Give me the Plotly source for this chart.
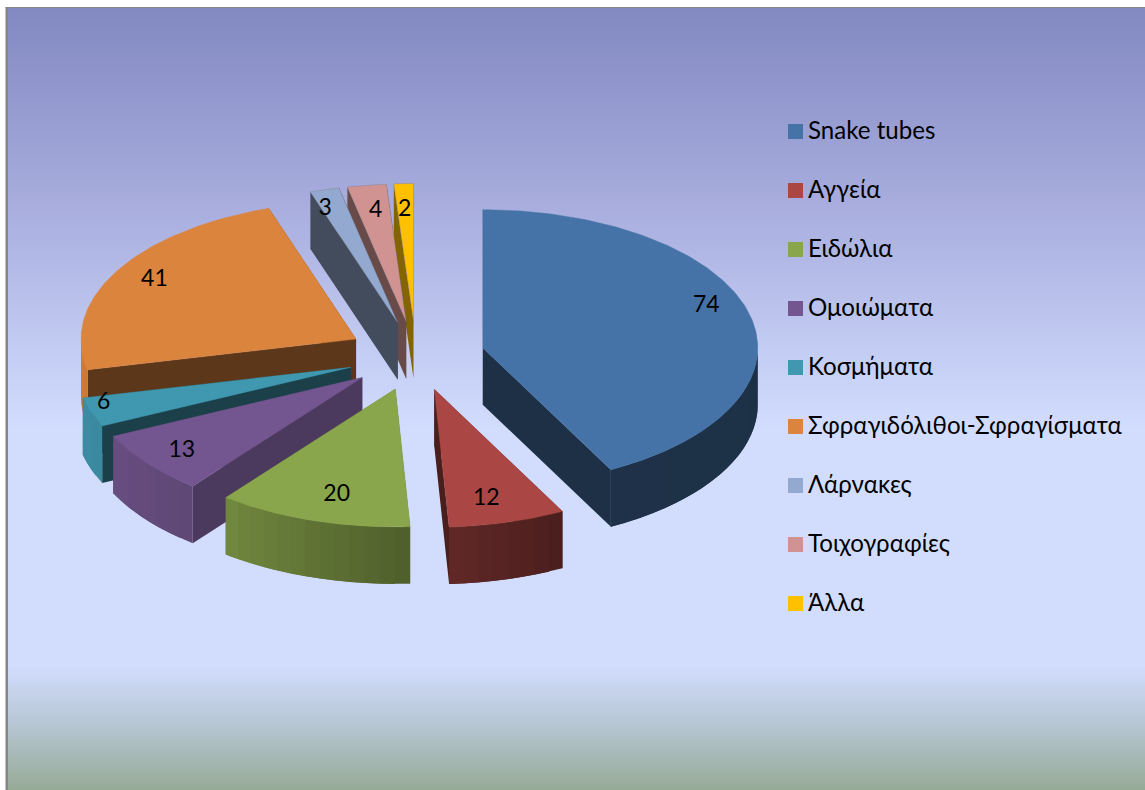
import numpy as np
import plotly.graph_objects as go

CATEGORIES = [
    "Snake tubes",
    "Αγγεία",
    "Ειδώλια",
    "Ομοιώματα",
    "Κοσμήματα",
    "Σφραγιδόλιθοι-Σφραγίσματα",
    "Λάρνακες",
    "Τοιχογραφίες",
    "Άλλα",
]
VALUES = [74, 12, 20, 13, 6, 41, 3, 4, 2]
COLORS = ["#4573a7", "#aa4744", "#8aa64c", "#73568f", "#4098b0", "#db843d", "#93a9cf", "#d09392", "#fec000"]
# darkening of the straight cut faces of each slice
CUT_SHADE = [0.42, 0.43, 0.6, 0.66, 0.42, 0.42, 0.45, 0.5, 0.52]
# how far out along the slice each value label sits, across and down
LABEL_RADIUS_X = [0.834, 0.698, 0.722, 0.844, 0.955, 0.845, 1.005, 0.8, 1.0]
LABEL_RADIUS_Y = [1.245, 0.825, 0.806, 0.854, 0.81, 0.875, 0.855, 0.811, 0.81]

# background stops: pixel row, colour
BG_ROWS = [8, 200, 430, 665, 720, 790]
BG_COLORS = ["#8289c1", "#a7acdd", "#d2ddfe", "#d2ddfe", "#b9c8d8", "#96aa96"]

# lighting of the rim by angle (degrees clockwise from 12 o'clock)
RIM_ANGLES = [90, 152, 177, 218, 244, 270]
RIM_SHADE = [0.42, 0.43, 0.57, 0.82, 0.9, 0.95]

WIDTH, HEIGHT = 1145, 790
CX, CY = 416, 356
RX, RY = 275, 138
DEPTH = 57
EXPLODE = 0.25
FONT = "Lato, 'Noto Sans', sans-serif"
EDGE = "rgba(120,120,130,0.45)"
OUTLINED = (6, 7, 8)


def shade(color, factor):
    r, g, b = [int(color[i : i + 2], 16) for i in (1, 3, 5)]
    return f"rgb({r * factor:.0f},{g * factor:.0f},{b * factor:.0f})"


def add_polygon(fig, xs, ys, color, line_color=None, line_width=0):
    fig.add_trace(
        go.Scatter(
            x=xs,
            y=ys,
            mode="lines",
            fill="toself",
            fillcolor=color,
            line=dict(color=line_color or color, width=line_width),
            hoverinfo="skip",
            showlegend=False,
        )
    )


def add_slice(fig, idx, start, end):
    mid = np.radians((start + end) / 2)
    ax = CX + EXPLODE * RX * np.sin(mid)
    ay = CY - EXPLODE * RY * np.cos(mid)

    def rim_point(deg):
        rad = np.radians(deg)
        return ax + RX * np.sin(rad), ay - RY * np.cos(rad)

    color = COLORS[idx]
    cut = shade(color, CUT_SHADE[idx])

    # straight faces
    for deg in (end, start):
        px_, py_ = rim_point(deg)
        add_polygon(fig, [ax, px_, px_, ax], [ay, py_, py_ + DEPTH, ay + DEPTH], cut)

    # rim, in thin overlapping strips so the lighting can change along it
    lo, hi = max(start, 90), min(end, 270)
    if hi > lo:
        edges = np.linspace(lo, hi, max(2, int((hi - lo) / 3) + 1))
        step = edges[1] - edges[0]
        for a in edges[:-1]:
            f = np.interp(a + step / 2, RIM_ANGLES, RIM_SHADE)
            arc = np.linspace(a, min(a + 2 * step, hi), 6)
            rx_, ry_ = rim_point(arc)
            add_polygon(
                fig,
                [*rx_, *rx_[::-1]],
                [*ry_, *(ry_[::-1] + DEPTH)],
                shade(color, f),
            )

    # top face
    arc = np.linspace(start, end, max(2, int(end - start) + 1))
    top_x, top_y = rim_point(arc)
    if idx in OUTLINED:
        add_polygon(fig, [ax, *top_x, ax], [ay, *top_y, ay], color, EDGE, 0.8)
    else:
        add_polygon(fig, [ax, *top_x, ax], [ay, *top_y, ay], color, color, 0.4)

    # value label
    return ax + LABEL_RADIUS_X[idx] * RX * np.sin(mid), ay - LABEL_RADIUS_Y[idx] * RY * np.cos(mid)


fig = go.Figure()

# background gradient
rows = np.arange(BG_ROWS[0], BG_ROWS[-1] + 1, 2)
stops = [(r - BG_ROWS[0]) / (BG_ROWS[-1] - BG_ROWS[0]) for r in BG_ROWS]
fig.add_trace(
    go.Heatmap(
        x=[8, WIDTH],
        y=rows,
        z=[[r] for r in rows],
        colorscale=list(zip(stops, BG_COLORS)),
        showscale=False,
        hoverinfo="skip",
    )
)

bounds = np.concatenate([[0], np.cumsum(VALUES)]) / sum(VALUES) * 360
label_pos = {}
for idx in [8, 7, 6, 5, 0, 4, 3, 2, 1]:
    label_pos[idx] = add_slice(fig, idx, bounds[idx], bounds[idx + 1])

fig.add_trace(
    go.Scatter(
        x=[label_pos[i][0] + 1 for i in range(len(VALUES))],
        y=[label_pos[i][1] for i in range(len(VALUES))],
        mode="text",
        text=[str(v) for v in VALUES],
        textposition="middle center",
        textfont=dict(family=FONT, size=23, color="#000000"),
        hoverinfo="skip",
        showlegend=False,
    )
)

# legend column
legend_y = [131.5 + 59 * i for i in range(len(CATEGORIES))]
fig.add_trace(
    go.Scatter(
        x=[795.5] * len(CATEGORIES),
        y=legend_y,
        mode="markers",
        marker=dict(symbol="square", size=15, color=COLORS, line=dict(width=0)),
        hoverinfo="skip",
        showlegend=False,
    )
)
fig.add_trace(
    go.Scatter(
        x=[808] * len(CATEGORIES),
        y=[y + 1 for y in legend_y],
        mode="text",
        text=CATEGORIES,
        textposition="middle right",
        textfont=dict(family=FONT, size=24.1, color="#000000"),
        hoverinfo="skip",
        showlegend=False,
    )
)

fig.update_layout(
    width=WIDTH,
    height=HEIGHT,
    margin=dict(l=0, r=0, t=0, b=0),
    paper_bgcolor="#ffffff",
    plot_bgcolor="#ffffff",
    xaxis=dict(range=[0, WIDTH], visible=False, fixedrange=True),
    yaxis=dict(range=[HEIGHT, 0], visible=False, fixedrange=True),
    shapes=[
        dict(type="rect", x0=5.5, x1=8, y0=7, y1=HEIGHT, fillcolor="#868686", line=dict(width=0)),
        dict(type="rect", x0=5.5, x1=WIDTH, y0=7, y1=8, fillcolor="#868686", line=dict(width=0)),
    ],
)

fig.write_html(
    "out.html",
    config=dict(displayModeBar=False),
    post_script="document.body.style.margin='0';",
)
